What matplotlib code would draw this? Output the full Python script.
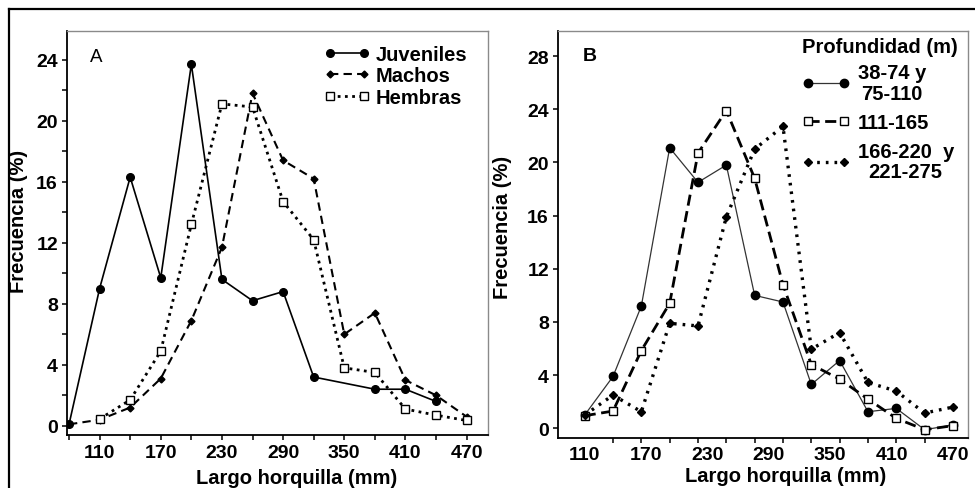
#-*- coding:utf-8 -*-

"""
    Distribución de frecuencias de largo horquilla
    A: por sexo / estado      B: por estrato de profundidad
"""

import numpy as np
import matplotlib.pyplot as plt
from matplotlib.lines import Line2D

plt.rcParams['font.family'] = ['Liberation Sans', 'DejaVu Sans']
plt.rcParams['font.weight'] = 'bold'

# ---- datos panel A ----
clases_a = [80, 110, 140, 170, 200, 230, 260, 290, 320, 350, 380, 410, 440, 470]
juv_x = [80, 110, 140, 170, 200, 230, 260, 290, 320, 380, 410, 440]
juveniles = [0.1, 9.0, 16.3, 9.7, 23.7, 9.6, 8.2, 8.8, 3.2, 2.4, 2.4, 1.6]
machos = [0.1, 0.4, 1.2, 3.1, 6.9, 11.7, 21.8, 17.4, 16.2, 6.0, 7.4, 3.0, 2.0, 0.6]
hem_x = [110, 140, 170, 200, 230, 260, 290, 320, 350, 380, 410, 440, 470]
hembras = [0.45, 1.7, 4.9, 13.2, 21.1, 20.9, 14.7, 12.2, 3.8, 3.5, 1.1, 0.7, 0.35]

# ---- datos panel B (14 clases repartidas entre 110 y 470) ----
clases_b = np.linspace(110, 470, 14)
prof_1 = [1.0, 3.9, 9.2, 21.1, 18.5, 19.8, 10.0, 9.5, 3.3, 5.1, 1.25, 1.5, -0.1, 0.25]
prof_2 = [0.95, 1.3, 5.85, 9.4, 20.7, 23.9, 18.8, 10.8, 4.8, 3.7, 2.2, 0.75, -0.1, 0.2]
prof_3 = [1.0, 2.5, 1.25, 7.9, 7.7, 15.9, 21.0, 22.7, 5.95, 7.2, 3.45, 2.8, 1.15, 1.6]

etiquetas_x = [110, 170, 230, 290, 350, 410, 470]

fig = plt.figure(figsize=(9.75, 4.89), dpi=100)
ax1 = fig.add_axes([0.0687, 0.1084, 0.4318, 0.8268])
ax2 = fig.add_axes([0.5723, 0.1016, 0.4205, 0.8335])

# marco exterior (solo arriba e izquierda)
fig.add_artist(Line2D([0.0092, 1.0], [0.980, 0.980], color='black', lw=1.6))
fig.add_artist(Line2D([0.0092, 0.0092], [0.0, 0.980], color='black', lw=1.6))


def estilo_ejes(ax):
    for s in ['left', 'bottom']:
        ax.spines[s].set_color('black')
        ax.spines[s].set_linewidth(1.3)
    for s in ['top', 'right']:
        ax.spines[s].set_color('#8a8a8a')
        ax.spines[s].set_linewidth(1.0)
    ax.tick_params(which='both', direction='out', length=3.5, width=1.1,
                   labelsize=14, pad=3)
    for t in ax.get_xticklabels() + ax.get_yticklabels():
        t.set_fontweight('bold')


# ---- panel A ----
ax1.plot(juv_x, juveniles, '-', color='black', lw=1.2, marker='o', ms=5.5,
         label='Juveniles')
ax1.plot(clases_a, machos, color='black', lw=1.5, ls=(0, (4, 2.5)), marker='D',
         ms=3.5, label='Machos')
ax1.plot(hem_x, hembras, color='black', lw=2.0, ls=(0, (1, 1.6)), marker='s',
         ms=6, mfc='white', mew=1.0, label='Hembras')

ax1.set_xlim(78, 491)
ax1.set_ylim(-0.6, 25.9)
ax1.set_xticks(etiquetas_x)
ax1.set_xticks([80, 140, 200, 260, 320, 380, 440], minor=True)
ax1.set_yticks(range(0, 25, 4))
ax1.set_yticks(range(2, 25, 4), minor=True)
estilo_ejes(ax1)
ax1.set_xlabel('Largo horquilla (mm)', fontsize=14.5, fontweight='bold')
ax1.set_ylabel('Frecuencia (%)', fontsize=14.5, fontweight='bold')
ax1.xaxis.set_label_coords(0.546, -0.082)
ax1.yaxis.set_label_coords(-0.093, 0.53)
ax1.text(0.069, 0.937, 'A', transform=ax1.transAxes, fontsize=13.5,
         fontweight='normal', ha='center', va='center')

leg1 = ax1.legend(loc='upper right', bbox_to_anchor=(0.985, 1.0), frameon=False,
                  numpoints=2, handlelength=2.3, handletextpad=0.3,
                  labelspacing=0.12, borderpad=0.2,
                  prop={'size': 14.5, 'weight': 'bold'})

# ---- panel B ----
ax2.plot(clases_b, prof_1, '-', color='#333333', lw=0.9, marker='o', ms=6,
         mfc='black', mec='black', label='38-74 y\n75-110')
ax2.plot(clases_b, prof_2, color='black', lw=2.0, ls=(0, (4, 2)), marker='s',
         ms=6, mfc='white', mew=1.0, label='111-165')
ax2.plot(clases_b, prof_3, color='black', lw=2.4, ls=(0, (0.8, 1.8)), marker='D',
         ms=4, label='166-220  y\n221-275')

ax2.set_xlim(83.9, 484.7)
ax2.set_ylim(-0.75, 29.9)
ax2.set_xticks(etiquetas_x)
ax2.set_xticks(clases_b, minor=True)
ax2.set_yticks(range(0, 29, 4))
estilo_ejes(ax2)
ax2.tick_params(axis='x', which='major', length=0, pad=5.5)
ax2.set_xlabel('Largo horquilla (mm)', fontsize=14.5, fontweight='bold')
ax2.set_ylabel('Frecuencia (%)', fontsize=14.5, fontweight='bold')
ax2.xaxis.set_label_coords(0.554, -0.068)
ax2.yaxis.set_label_coords(-0.112, 0.52)
ax2.text(0.078, 0.939, 'B', transform=ax2.transAxes, fontsize=14,
         fontweight='bold', ha='center', va='center')

# título de la leyenda como texto aparte
ax2.text(0.785, 0.9625, 'Profundidad (m)', transform=ax2.transAxes,
         fontsize=14.5, fontweight='bold', ha='center', va='center')
leg2 = ax2.legend(loc='upper right', bbox_to_anchor=(1.0, 0.955), frameon=False,
                  numpoints=2, handlelength=2.4, handletextpad=0.35,
                  labelspacing=0.5, borderpad=0.2,
                  prop={'size': 14.5, 'weight': 'bold'})
for t in leg2.get_texts():
    t.set_multialignment('center')
    t.set_linespacing(1.1)

fig.savefig('out.png', dpi=100)
